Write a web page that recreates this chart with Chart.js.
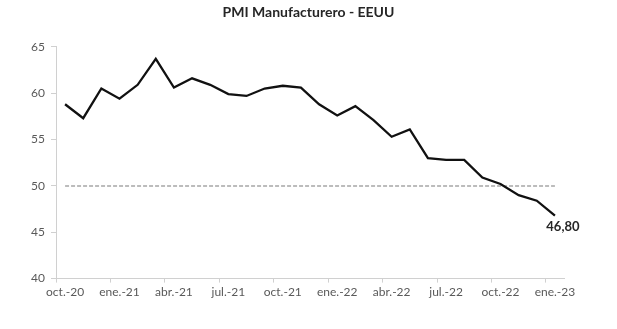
<!DOCTYPE html>
<html>
<head>
<meta charset="utf-8">
<script src="https://cdn.jsdelivr.net/npm/chart.js@4"></script>
<style>
	body { margin: 0; background: #fff; }
	#pmi { display: block; }
</style>
</head>
<body>
<canvas id="pmi" width="617" height="329"></canvas>
<script>
var meses = ['oct.-20', 'nov.-20', 'dic.-20',
	'ene.-21', 'feb.-21', 'mar.-21', 'abr.-21', 'may.-21', 'jun.-21', 'jul.-21', 'ago.-21', 'sep.-21', 'oct.-21', 'nov.-21', 'dic.-21',
	'ene.-22', 'feb.-22', 'mar.-22', 'abr.-22', 'may.-22', 'jun.-22', 'jul.-22', 'ago.-22', 'sep.-22', 'oct.-22', 'nov.-22', 'dic.-22',
	'ene.-23'];
var pmi = [58.8, 57.3, 60.5, 59.4, 60.9, 63.7, 60.6, 61.6, 60.9, 59.9, 59.7, 60.5, 60.8, 60.6, 58.8,
	57.6, 58.6, 57.1, 55.3, 56.1, 53.0, 52.8, 52.8, 50.9, 50.2, 49.0, 48.4, 46.8];
var umbral = [];
for (let i = 0; i < meses.length; i++) {
	umbral.push(50);
}
var ticksY = [40, 45, 50, 55, 60, 65];

var fuente = 'Lato, "Open Sans", sans-serif';
var gris = '#d0d0d0';

// etiqueta del ultimo valor
var etiquetaFinal = {
	id: 'etiquetaFinal',
	afterDatasetsDraw: function (chart) {
		let meta = chart.getDatasetMeta(0);
		let punto = meta.data[meta.data.length - 1];
		let valor = pmi[pmi.length - 1].toFixed(2).replace('.', ',');
		let ctx = chart.ctx;
		ctx.save();
		ctx.font = 'bold 13px ' + fuente;
		ctx.fillStyle = '#262626';
		ctx.textAlign = 'center';
		ctx.textBaseline = 'middle';
		ctx.fillText(valor, punto.x + 8, punto.y + 11);
		ctx.restore();
	}
};

var canvas = document.getElementById('pmi');
var grafico = new Chart(canvas, {
	type: 'line',
	data: {
		labels: meses,
		datasets: [{
			label: 'PMI',
			data: pmi,
			borderColor: '#111111',
			borderWidth: 2.3,
			pointRadius: 0,
			tension: 0
		}, {
			label: '50',
			data: umbral,
			borderColor: '#a6a6a6',
			borderWidth: 1.5,
			borderDash: [4, 2],
			pointRadius: 0
		}]
	},
	options: {
		responsive: false,
		animation: false,
		layout: {
			padding: { left: 0, right: 0, top: 0, bottom: 28 }
		},
		plugins: {
			legend: { display: false },
			tooltip: { enabled: false },
			title: {
				display: true,
				text: 'PMI Manufacturero - EEUU',
				color: '#262626',
				font: { family: fuente, size: 14, weight: 'bold' },
				padding: { top: 4, bottom: 26 }
			}
		},
		scales: {
			x: {
				offset: true,
				grid: {
					offset: true,
					drawOnChartArea: false,
					tickLength: 4,
					tickColor: function (c) {
						return (c.index % 3 === 0) ? gris : 'rgba(0,0,0,0)';
					}
				},
				border: { color: gris, width: 1 },
				ticks: {
					autoSkip: false,
					maxRotation: 0,
					color: '#595959',
					font: { family: fuente, size: 12 },
					padding: 2,
					callback: function (v, i) {
						return (i % 3 === 0) ? meses[i] : '';
					}
				}
			},
			y: {
				min: 40,
				max: 65,
				afterBuildTicks: function (s) {
					s.ticks = ticksY.map(function (v) { return { value: v }; });
				},
				afterFit: function (s) {
					s.width = 56;
				},
				grid: {
					drawOnChartArea: false,
					tickLength: 5,
					tickColor: gris
				},
				border: { color: gris, width: 1 },
				ticks: {
					color: '#595959',
					font: { family: fuente, size: 12 },
					padding: 6
				}
			},
			// eje vacio a la derecha para dejar el margen
			margen: {
				position: 'right',
				min: 40,
				max: 65,
				grid: { display: false },
				border: { display: false },
				ticks: { display: false },
				afterFit: function (s) {
					s.width = 53;
				}
			}
		}
	},
	plugins: [etiquetaFinal]
});
</script>
</body>
</html>
